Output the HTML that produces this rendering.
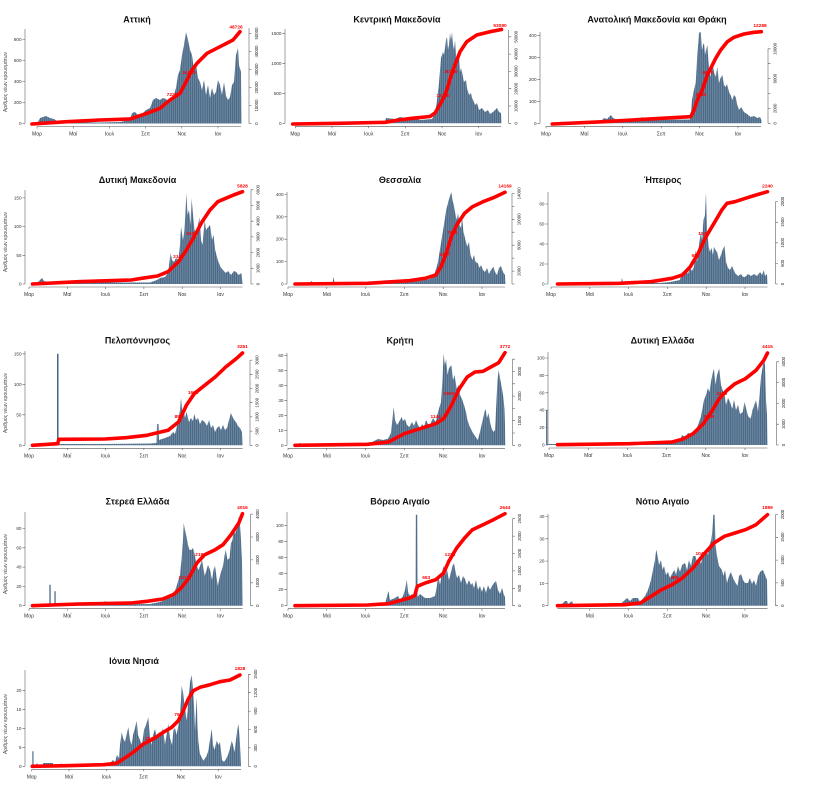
<!DOCTYPE html>
<html><head><meta charset="utf-8"><style>
html,body{margin:0;padding:0;background:#fff;}
svg{display:block;}
text{font-family:"Liberation Sans","DejaVu Sans",sans-serif;}
.t{font-size:9px;font-weight:bold;text-anchor:middle;fill:#111;}
.yl{font-size:4.6px;text-anchor:end;fill:#333;}
.xl{font-size:5px;text-anchor:middle;fill:#333;}
.rl{font-size:4.3px;text-anchor:middle;fill:#333;}
.yt{font-size:5px;text-anchor:middle;fill:#444;}
.rd{font-size:4.8px;font-weight:bold;text-anchor:middle;fill:#ff0000;}
.ax{stroke:#555;stroke-width:.55;fill:none;}
.b{fill:url(#st);stroke:none;}
.r{fill:none;stroke:#ff0000;stroke-width:3.6;stroke-linejoin:round;stroke-linecap:round;}
</style></head><body>
<svg width="816" height="798" viewBox="0 0 816 798" xmlns="http://www.w3.org/2000/svg">
<defs>
<pattern id="st" width="1.9" height="20" patternUnits="userSpaceOnUse">
<rect width="1.9" height="20" fill="#4b6a88"/>
<rect x="1.45" width="0.45" height="20" fill="#8fa3b7"/>
</pattern>
</defs>
<rect width="816" height="798" fill="#fff"/>

<!-- ================= P1 Αττική ================= -->
<text class="t" x="137" y="22.5">Αττική</text>
<text class="yt" transform="translate(7 82) rotate(-90)">Αριθμός νέων κρουσμάτων</text>
<path class="ax" d="M25 29V123.5M22.5 123.5H25M22.5 102.5H25M22.5 81.5H25M22.5 60.5H25M22.5 39.5H25"/>
<text class="yl" x="21.5" y="125">0</text><text class="yl" x="21.5" y="104">200</text><text class="yl" x="21.5" y="83">400</text><text class="yl" x="21.5" y="62">600</text><text class="yl" x="21.5" y="41">800</text>
<path class="ax" d="M249 28V123.5M249 123.5H251.5M249 105.5H251.5M249 87.5H251.5M249 69.5H251.5M249 51.5H251.5M249 33.5H251.5"/>
<text class="rl" transform="translate(258 123.5) rotate(-90)">0</text><text class="rl" transform="translate(258 105.5) rotate(-90)">10000</text><text class="rl" transform="translate(258 87.5) rotate(-90)">20000</text><text class="rl" transform="translate(258 69.5) rotate(-90)">30000</text><text class="rl" transform="translate(258 51.5) rotate(-90)">40000</text><text class="rl" transform="translate(258 33.5) rotate(-90)">50000</text>
<path class="ax" d="M37 126.5H241M37 126.5V128.5M73.2 126.5V128.5M109.4 126.5V128.5M145.6 126.5V128.5M181.8 126.5V128.5M218 126.5V128.5"/>
<text class="xl" x="37" y="135.5">Μαρ</text><text class="xl" x="73.2" y="135.5">Μαϊ</text><text class="xl" x="109.4" y="135.5">Ιουλ</text><text class="xl" x="145.6" y="135.5">Σεπ</text><text class="xl" x="181.8" y="135.5">Νοε</text><text class="xl" x="218" y="135.5">Ιαν</text>
<polygon class="b" points="33,123.5 38,122 40,118 43,117 46,116 50,118 54,119 57,121 60,122 100,122.5 120,122 130,120 132,113 135,112 138,115 142,114 146,110 150,108 153,100 156,98 160,100 163,98 166,99 169,103 172,99 174,95 176,88 178,75 180,70 182,55 184,45 186,32 188,40 190,50 192,55 194,70 196,65 198,78 200,82 202,90 204,80 206,95 208,85 210,98 212,88 214,95 216,92 218,80 220,85 222,95 224,82 226,96 228,100 230,97 232,85 234,82 236,55 238,48 239,65 241,72 241.5,123.5"/>
<polyline class="r" points="32,124 67,121.7 100,120 130,119 147,113.3 160,108.3 170,100 180,93.3 187,80 192,70 197,63.3 207,53.3 220,46.7 233,40 240,31.7"/>
<text class="rd" x="172" y="96">7220</text><text class="rd" x="189" y="74">24425</text><text class="rd" x="236" y="28.5">48726</text>

<!-- ================= P2 Κεντρική Μακεδονία ================= -->
<text class="t" x="397" y="22.5">Κεντρική Μακεδονία</text>
<path class="ax" d="M285 29V123.3M282.5 123.3H285M282.5 93.3H285M282.5 63.3H285M282.5 33.3H285"/>
<text class="yl" x="281.5" y="124.8">0</text><text class="yl" x="281.5" y="94.8">500</text><text class="yl" x="281.5" y="64.8">1000</text><text class="yl" x="281.5" y="34.8">1500</text>
<path class="ax" d="M508.7 30V123.3M508.7 123.3H511.2M508.7 106H511.2M508.7 88.7H511.2M508.7 71.4H511.2M508.7 54.1H511.2M508.7 36.8H511.2"/>
<text class="rl" transform="translate(517.5 123.3) rotate(-90)">0</text><text class="rl" transform="translate(517.5 106) rotate(-90)">10000</text><text class="rl" transform="translate(517.5 88.7) rotate(-90)">20000</text><text class="rl" transform="translate(517.5 71.4) rotate(-90)">30000</text><text class="rl" transform="translate(517.5 54.1) rotate(-90)">40000</text><text class="rl" transform="translate(517.5 36.8) rotate(-90)">50000</text>
<path class="ax" d="M295.3 126.3H501M295.3 126.3V128.3M332 126.3V128.3M368.7 126.3V128.3M405.3 126.3V128.3M442 126.3V128.3M478.7 126.3V128.3"/>
<text class="xl" x="295.3" y="135.3">Μαρ</text><text class="xl" x="332" y="135.3">Μαϊ</text><text class="xl" x="368.7" y="135.3">Ιουλ</text><text class="xl" x="405.3" y="135.3">Σεπ</text><text class="xl" x="442" y="135.3">Νοε</text><text class="xl" x="478.7" y="135.3">Ιαν</text>
<polygon class="b" points="292.7,123.3 300,122.5 385,122.5 386,118 395,119 400,117 405,118 412,117 420,120 432,119 435,113 437,100 439,83 441,58 443,52 444,55 445,48 446,40 447,37 448,50 449,45 450,33 451,40 452,32 453,45 454,50 455,40 456,55 457,62 458,60 459,57 460,72 461,68 462,72 464,82 466,80 467,88 469,95 471,93 472,98 474,102 475,105 477,103 479,110 482,108 485,112 488,110 490,114 493,112 495,110 497,108 499,112 501,113 501.5,123.3"/>
<polyline class="r" points="292.7,124 338.7,123.3 385.3,122.3 398.7,120 412,118.3 430,116.5 435,113 438,108 440.3,104 445,95 448,86 450.3,78 455,65 460,51.7 466.7,41.7 476.7,35 490,31.7 501.5,29.5"/>
<text class="rd" x="443" y="97">12260</text><text class="rd" x="451" y="73">30180</text><text class="rd" x="500" y="27">53080</text>

<!-- ================= P3 ΑΜΘ ================= -->
<text class="t" x="657" y="22.5">Ανατολική Μακεδονία και Θράκη</text>
<path class="ax" d="M540 32V123.3M537.5 123.3H540M537.5 101.3H540M537.5 79.3H540M537.5 57.3H540M537.5 35.3H540"/>
<text class="yl" x="536.5" y="124.8">0</text><text class="yl" x="536.5" y="102.8">100</text><text class="yl" x="536.5" y="80.8">200</text><text class="yl" x="536.5" y="58.8">300</text><text class="yl" x="536.5" y="36.8">400</text>
<path class="ax" d="M768 48.8V123.3M768 123.3H770.5M768 108.4H770.5M768 93.5H770.5M768 78.6H770.5M768 63.7H770.5M768 48.8H770.5"/>
<text class="rl" transform="translate(776.5 123.3) rotate(-90)">0</text><text class="rl" transform="translate(776.5 108.4) rotate(-90)">2000</text><text class="rl" transform="translate(776.5 78.6) rotate(-90)">6000</text><text class="rl" transform="translate(776.5 48.8) rotate(-90)">10000</text>
<path class="ax" d="M546 126.3H761M546 126.3V128.3M584.4 126.3V128.3M622.8 126.3V128.3M661.2 126.3V128.3M699.6 126.3V128.3M738 126.3V128.3"/>
<text class="xl" x="546" y="135.3">Μαρ</text><text class="xl" x="584.4" y="135.3">Μαϊ</text><text class="xl" x="622.8" y="135.3">Ιουλ</text><text class="xl" x="661.2" y="135.3">Σεπ</text><text class="xl" x="699.6" y="135.3">Νοε</text><text class="xl" x="738" y="135.3">Ιαν</text>
<polygon class="b" points="552,123.3 560,122.5 600,122 604,118 607,119 609,117 611,115 613,118 620,121 640,119 642,117 645,120 690,119.5 691,113 692,100 694,90 695.7,83 697,60 699,33 700.7,31.7 702,50 703,45 704,43 705,55 706,50 707.3,45 708,55 709,67 710.7,77 712.3,63 714,72 715.7,77 717.3,67 719,83 720.5,78 722.3,75 724,85 725.7,87 727,84 729,92 731,96 732.3,100 734,95 735.7,97 737,104 739,110 741,107 744,112 747,114 750.7,117 754,116 757.3,118 760,117 761.3,120 761.5,123.3"/>
<polyline class="r" points="552.3,124 604,121.7 644,119.3 690.7,116.7 694,110 697.3,100 702.3,90 707.3,75 710.7,68.3 715.7,58.3 720.7,50 727.3,41.7 734,37.3 744,34 754,32.3 761.3,31.7"/>
<text class="rd" x="701" y="96">3380</text><text class="rd" x="708" y="74">6510</text><text class="rd" x="760" y="27">12288</text>

<!-- ================= P4 Δυτική Μακεδονία ================= -->
<text class="t" x="137.5" y="183">Δυτική Μακεδονία</text>
<text class="yt" transform="translate(7 242) rotate(-90)">Αριθμός νέων κρουσμάτων</text>
<path class="ax" d="M25 190V284M22.5 284H25M22.5 255.3H25M22.5 226.6H25M22.5 197.9H25"/>
<text class="yl" x="21.5" y="285.5">0</text><text class="yl" x="21.5" y="256.8">50</text><text class="yl" x="21.5" y="228.1">100</text><text class="yl" x="21.5" y="199.4">150</text>
<path class="ax" d="M251 189.8V284M251 284H253.5M251 268.3H253.5M251 252.6H253.5M251 236.9H253.5M251 221.2H253.5M251 205.5H253.5M251 189.8H253.5"/>
<text class="rl" transform="translate(259.5 284) rotate(-90)">0</text><text class="rl" transform="translate(259.5 268.3) rotate(-90)">1000</text><text class="rl" transform="translate(259.5 252.6) rotate(-90)">2000</text><text class="rl" transform="translate(259.5 236.9) rotate(-90)">3000</text><text class="rl" transform="translate(259.5 221.2) rotate(-90)">4000</text><text class="rl" transform="translate(259.5 205.5) rotate(-90)">5000</text><text class="rl" transform="translate(259.5 189.8) rotate(-90)">6000</text>
<path class="ax" d="M29 287H242.5M29 287V289M67.3 287V289M105.6 287V289M143.9 287V289M182.2 287V289M220.5 287V289"/>
<text class="xl" x="29" y="296">Μαρ</text><text class="xl" x="67.3" y="296">Μαϊ</text><text class="xl" x="105.6" y="296">Ιουλ</text><text class="xl" x="143.9" y="296">Σεπ</text><text class="xl" x="182.2" y="296">Νοε</text><text class="xl" x="220.5" y="296">Ιαν</text>
<polygon class="b" points="32.5,284 38,282 40,280 42,278 44,281 50,282.5 150,282.5 157,280 160,278 165,277 168,273 170.6,253 172,260 174,262 176,258 178.5,260 180,245 181,227 183,240 184.5,230 186.4,193 187.5,215 189,210 190.5,225 191.6,198 193,215 194.5,230 196.9,237 198,225 199.5,217 201,240 202.5,245 204.7,220 206,230 207.5,228 210,225 212,240 213.5,235 215.2,250 217.8,260 220.5,267 223,270 225.7,273 228,271 231,275 234,271 236.2,272 238.5,275 241.5,273 242.5,284"/>
<polyline class="r" points="32.5,284 78.7,281.7 131.2,280 141.7,278.3 157.5,276 168,271.7 178.5,261.7 186.4,250 194.2,236.7 202.1,221.7 210,210 217.8,201.7 225.7,198.3 233.6,195 242.5,191.7"/>
<text class="rd" x="178.5" y="258">2144</text><text class="rd" x="191.6" y="235">3420</text><text class="rd" x="242.5" y="187.5">5828</text>

<!-- ================= P5 Θεσσαλία ================= -->
<text class="t" x="400" y="183">Θεσσαλία</text>
<path class="ax" d="M287 192V284M284.5 284H287M284.5 261.6H287M284.5 239.2H287M284.5 216.8H287M284.5 194.4H287"/>
<text class="yl" x="283.5" y="285.5">0</text><text class="yl" x="283.5" y="263.1">100</text><text class="yl" x="283.5" y="240.7">200</text><text class="yl" x="283.5" y="218.3">300</text><text class="yl" x="283.5" y="195.9">400</text>
<path class="ax" d="M512 193.4V284M512 284H514.5M512 271.1H514.5M512 258.1H514.5M512 245.2H514.5M512 232.2H514.5M512 219.3H514.5M512 206.4H514.5M512 193.4H514.5"/>
<text class="rl" transform="translate(520.5 271.1) rotate(-90)">2000</text><text class="rl" transform="translate(520.5 245.2) rotate(-90)">6000</text><text class="rl" transform="translate(520.5 219.3) rotate(-90)">10000</text><text class="rl" transform="translate(520.5 193.4) rotate(-90)">14000</text>
<path class="ax" d="M288 287H505M288 287V289M326.8 287V289M365.6 287V289M404.4 287V289M443.2 287V289M482 287V289"/>
<text class="xl" x="288" y="296">Μαρ</text><text class="xl" x="326.8" y="296">Μαϊ</text><text class="xl" x="365.6" y="296">Ιουλ</text><text class="xl" x="404.4" y="296">Σεπ</text><text class="xl" x="443.2" y="296">Νοε</text><text class="xl" x="482" y="296">Ιαν</text>
<polygon class="b" points="295,284 310,283 311.5,280.7 313,283 332.8,282 333.5,276.7 334.5,283 380,283 400,282 420,281 430,279 434,276 435.7,270 438,262 441,243 443.6,227 445,218 446.2,210 447.5,205 448.8,200 450,196 451.4,192.3 452.5,200 454,206 455.5,215 456.7,220 458,213 459.5,225 461,228 462,217 463.5,232 465,238 467.2,246.7 469,242 470.5,255 472.4,260 474,255 475.5,262 477.7,263 479.5,268 481,265 483,270 485,272 487,268 489,274 491,270 493.4,266.7 495,272 497,275 499,268 501,266 503,272 505,275 505.5,284"/>
<polyline class="r" points="295,284 367.5,283.3 409.4,280.7 425.2,278.3 435.7,275 441,266.7 446.2,253.3 451.4,236.7 456.7,225 464.6,213.3 472.4,206.7 483,201.7 493.4,197.7 505,192.3"/>
<text class="rd" x="445" y="256">2897</text><text class="rd" x="452.5" y="234">7650</text><text class="rd" x="505" y="187.5">14169</text>

<!-- ================= P6 Ήπειρος ================= -->
<text class="t" x="662.5" y="183">Ήπειρος</text>
<path class="ax" d="M548 192V284M545.5 284H548M545.5 264H548M545.5 244H548M545.5 224H548M545.5 204H548"/>
<text class="yl" x="544.5" y="285.5">0</text><text class="yl" x="544.5" y="265.5">20</text><text class="yl" x="544.5" y="245.5">40</text><text class="yl" x="544.5" y="225.5">60</text><text class="yl" x="544.5" y="205.5">80</text>
<path class="ax" d="M775.5 201.6V284M775.5 284H778M775.5 263.4H778M775.5 242.8H778M775.5 222.2H778M775.5 201.6H778"/>
<text class="rl" transform="translate(784 284) rotate(-90)">0</text><text class="rl" transform="translate(784 263.4) rotate(-90)">500</text><text class="rl" transform="translate(784 242.8) rotate(-90)">1000</text><text class="rl" transform="translate(784 222.2) rotate(-90)">1500</text><text class="rl" transform="translate(784 201.6) rotate(-90)">2000</text>
<path class="ax" d="M551 287H767.5M551 287V289M589.8 287V289M628.6 287V289M667.4 287V289M706.2 287V289M745 287V289"/>
<text class="xl" x="551" y="296">Μαρ</text><text class="xl" x="589.8" y="296">Μαϊ</text><text class="xl" x="628.6" y="296">Ιουλ</text><text class="xl" x="667.4" y="296">Σεπ</text><text class="xl" x="706.2" y="296">Νοε</text><text class="xl" x="745" y="296">Ιαν</text>
<polygon class="b" points="557.5,284 570,283 621,283 622,278 623,283 660,283 670,282 680,280 682,272 684,275 686,270 688,274 690,268 692,271 694,267 695.5,250 697,262 699,245 700.8,231.7 702,240 703.5,220 705,215 706,192.3 707,230 708.7,247 710,252 711.5,248 713,255 714,246.7 715.5,250 717,252 719,260 721,255 722.5,250 724.4,245.7 726,262 728,268 730,270 732,266 735,273 738,276 741,274 743,277 745.4,276.7 748,274 751,276 754,274 757,276 760,272 762,275 763.8,270 765,276 767,274 767.5,284"/>
<polyline class="r" points="557.5,284 619.4,283.3 651,281.7 672,278.3 682.4,275 690.3,266.7 698.2,253.3 706,236.7 714,223.3 721.8,210 727,203.3 735,201.7 745.4,198.3 756,195 767.5,191.7"/>
<text class="rd" x="695.5" y="257">581</text><text class="rd" x="703.4" y="235">1141</text><text class="rd" x="767.5" y="187.5">2240</text>

<!-- ================= P7 Πελοπόννησος ================= -->
<text class="t" x="137.5" y="343.5">Πελοπόννησος</text>
<text class="yt" transform="translate(7 403) rotate(-90)">Αριθμός νέων κρουσμάτων</text>
<path class="ax" d="M25 351V445.3M22.5 445.3H25M22.5 414.8H25M22.5 384.3H25M22.5 353.8H25"/>
<text class="yl" x="21.5" y="446.8">0</text><text class="yl" x="21.5" y="416.3">50</text><text class="yl" x="21.5" y="385.8">100</text><text class="yl" x="21.5" y="355.3">150</text>
<path class="ax" d="M250 360.1V445.3M250 445.3H252.5M250 431.1H252.5M250 416.9H252.5M250 402.7H252.5M250 388.5H252.5M250 374.3H252.5M250 360.1H252.5"/>
<text class="rl" transform="translate(258.5 445.3) rotate(-90)">0</text><text class="rl" transform="translate(258.5 431.1) rotate(-90)">500</text><text class="rl" transform="translate(258.5 416.9) rotate(-90)">1000</text><text class="rl" transform="translate(258.5 402.7) rotate(-90)">1500</text><text class="rl" transform="translate(258.5 388.5) rotate(-90)">2000</text><text class="rl" transform="translate(258.5 374.3) rotate(-90)">2500</text><text class="rl" transform="translate(258.5 360.1) rotate(-90)">3000</text>
<path class="ax" d="M29 448.3H242.5M29 448.3V450.3M67.3 448.3V450.3M105.6 448.3V450.3M143.9 448.3V450.3M182.2 448.3V450.3M220.5 448.3V450.3"/>
<text class="xl" x="29" y="457.3">Μαρ</text><text class="xl" x="67.3" y="457.3">Μαϊ</text><text class="xl" x="105.6" y="457.3">Ιουλ</text><text class="xl" x="143.9" y="457.3">Σεπ</text><text class="xl" x="182.2" y="457.3">Νοε</text><text class="xl" x="220.5" y="457.3">Ιαν</text>
<polygon class="b" points="32.5,445.3 40,444.5 57,444.5 57,353.7 58.6,353.7 58.6,444 100,444 150,443.5 156.5,443 157,424 158.5,424 159,440 165,438 170,436 173,432 175,434 176.5,428 178.5,418.7 180,410 181,398 182.5,415 183.7,408.7 185,418 186.5,412 189,422 191,418 193,421 194.2,414 196,420 198,418 200,424 202,420 204.7,422 207,426 209,420 211,428 213,425 215,432 217,428 219,426 221,430 223,425 225,430 227,428 229,420 231,413 233,418 235,421 236,422 238,426 240,428 242,432 242.5,445.3"/>
<polyline class="r" points="32.5,445.3 57.7,443.7 58.8,439.3 105,439 126,437.7 147,435.3 168,430.3 178.5,422 186.4,405.3 194.2,393.7 204.7,385.3 215.2,377 225.7,367 236.2,358.7 242.5,353"/>
<text class="rd" x="178.5" y="418">850</text><text class="rd" x="193.2" y="394">1652</text><text class="rd" x="242.5" y="348">3251</text>

<!-- ================= P8 Κρήτη ================= -->
<text class="t" x="400" y="343.5">Κρήτη</text>
<path class="ax" d="M287 353V445.3M284.5 445.3H287M284.5 430.3H287M284.5 415.3H287M284.5 400.3H287M284.5 385.3H287M284.5 370.3H287M284.5 355.3H287"/>
<text class="yl" x="283.5" y="446.8">0</text><text class="yl" x="283.5" y="431.8">10</text><text class="yl" x="283.5" y="416.8">20</text><text class="yl" x="283.5" y="401.8">30</text><text class="yl" x="283.5" y="386.8">40</text><text class="yl" x="283.5" y="371.8">50</text><text class="yl" x="283.5" y="356.8">60</text>
<path class="ax" d="M512.5 359.2V445.3M512.5 445.3H515M512.5 433H515M512.5 420.7H515M512.5 408.4H515M512.5 396.1H515M512.5 383.8H515M512.5 371.5H515M512.5 359.2H515"/>
<text class="rl" transform="translate(521 445.3) rotate(-90)">0</text><text class="rl" transform="translate(521 420.7) rotate(-90)">1000</text><text class="rl" transform="translate(521 396.1) rotate(-90)">2000</text><text class="rl" transform="translate(521 371.5) rotate(-90)">3000</text>
<path class="ax" d="M288 448.3H505M288 448.3V450.3M326.8 448.3V450.3M365.6 448.3V450.3M404.4 448.3V450.3M443.2 448.3V450.3M482 448.3V450.3"/>
<text class="xl" x="288" y="457.3">Μαρ</text><text class="xl" x="326.8" y="457.3">Μαϊ</text><text class="xl" x="365.6" y="457.3">Ιουλ</text><text class="xl" x="404.4" y="457.3">Σεπ</text><text class="xl" x="443.2" y="457.3">Νοε</text><text class="xl" x="482" y="457.3">Ιαν</text>
<polygon class="b" points="295,445.3 300,443 302,444 360,444 365,443 372,442 378,439 383,440 388,438.7 391,433 393.7,407 395,420 397,425 399,422 401.6,417 403,421 405,419 407,425 409.4,427 412,422 414,426 416,420 418,425 420,428.7 422,424 424,427 426,420 428,424 430,425 433,418 435.7,422 438,412 441,402 442.5,380 443.6,354 445,365 446.2,359 447.5,375 449,368 451.4,365.3 453,380 454.5,375 456.7,389 458.5,385 460,395 462,399 464,405 466,412 467.2,419 469,425 470.5,428 472.4,432 475,436 477.7,440 480,432 481.5,425 483,419 484.5,412 485.6,409 487,418 488.5,413 490,422 491.5,428 493.4,432 495,430 496.5,400 497.5,380 498.7,370.3 500,378 501.3,385 502.5,392 503.5,398 504.5,410 505,425 505.3,445.3"/>
<polyline class="r" points="295,445.3 367.5,444.3 388.5,442 404.2,433.7 420,428.7 435.7,423.7 443.6,418.7 451.4,405.3 459.3,388.7 467.2,377 475,372 483,371.3 490.8,367 498.7,362.7 505,352.7"/>
<text class="rd" x="435.7" y="418">1144</text><text class="rd" x="448.8" y="395">1930</text><text class="rd" x="505" y="348">3772</text>

<!-- ================= P9 Δυτική Ελλάδα ================= -->
<text class="t" x="662.5" y="343.5">Δυτική Ελλάδα</text>
<path class="ax" d="M548 352V445M545.5 445H548M545.5 427.6H548M545.5 410.2H548M545.5 392.8H548M545.5 375.4H548M545.5 358H548"/>
<text class="yl" x="544.5" y="446.5">0</text><text class="yl" x="544.5" y="429.1">20</text><text class="yl" x="544.5" y="411.7">40</text><text class="yl" x="544.5" y="394.3">60</text><text class="yl" x="544.5" y="376.9">80</text><text class="yl" x="544.5" y="359.5">100</text>
<path class="ax" d="M776.5 361.8V445M776.5 445H779M776.5 424.2H779M776.5 403.4H779M776.5 382.6H779M776.5 361.8H779"/>
<text class="rl" transform="translate(785 445) rotate(-90)">0</text><text class="rl" transform="translate(785 424.2) rotate(-90)">1000</text><text class="rl" transform="translate(785 403.4) rotate(-90)">2000</text><text class="rl" transform="translate(785 382.6) rotate(-90)">3000</text><text class="rl" transform="translate(785 361.8) rotate(-90)">4000</text>
<path class="ax" d="M549 448H767.5M549 448V450M588.2 448V450M627.4 448V450M666.6 448V450M705.8 448V450M745 448V450"/>
<text class="xl" x="549" y="457">Μαρ</text><text class="xl" x="588.2" y="457">Μαϊ</text><text class="xl" x="627.4" y="457">Ιουλ</text><text class="xl" x="666.6" y="457">Σεπ</text><text class="xl" x="705.8" y="457">Νοε</text><text class="xl" x="745" y="457">Ιαν</text>
<polygon class="b" points="546,445 546,410.3 547.4,410.3 547.4,444 557,444 600,443.5 640,443 670,442 680,440 682,435 685,437 688,433 691,434 693,432 696,430 698,425 700.8,417 702.5,408 704,400 706,395 708,388 709.5,392 711.3,380 713,372 714,368.7 715.5,385 717,375 719.2,368.7 721,385 722.5,390 724.4,393.7 726,405 728,398 730,402 732.3,408.7 734,400 736,410 738,405 740,414 742.8,412 744.5,402 746,408 748,416 750.7,418.7 752.5,410 754,406 756,400 758,412 759.5,395 761.2,375.3 762.5,368 763.8,358.7 765,365 766,400 767,415 767.5,445"/>
<polyline class="r" points="557.5,444.7 630,443.7 672,442 682.4,439.3 693,433.7 703.4,423.7 711.3,412 719.2,398.7 727,390.3 735,383.7 745.4,378.7 756,370.3 763.8,360.3 767.5,353"/>
<text class="rd" x="708.7" y="418">1395</text><text class="rd" x="721.8" y="395">2220</text><text class="rd" x="767.5" y="348">4415</text>

<!-- ================= P10 Στερεά Ελλάδα ================= -->
<text class="t" x="137.5" y="504.5">Στερεά Ελλάδα</text>
<text class="yt" transform="translate(7 564) rotate(-90)">Αριθμός νέων κρουσμάτων</text>
<path class="ax" d="M25 512V605.7M22.5 605.7H25M22.5 586.4H25M22.5 567.1H25M22.5 547.8H25M22.5 528.5H25"/>
<text class="yl" x="21.5" y="607.2">0</text><text class="yl" x="21.5" y="587.9">20</text><text class="yl" x="21.5" y="568.6">40</text><text class="yl" x="21.5" y="549.3">60</text><text class="yl" x="21.5" y="530">80</text>
<path class="ax" d="M250.5 514.1V605.7M250.5 605.7H253M250.5 582.8H253M250.5 559.9H253M250.5 537H253M250.5 514.1H253"/>
<text class="rl" transform="translate(259 605.7) rotate(-90)">0</text><text class="rl" transform="translate(259 582.8) rotate(-90)">1000</text><text class="rl" transform="translate(259 559.9) rotate(-90)">2000</text><text class="rl" transform="translate(259 537) rotate(-90)">3000</text><text class="rl" transform="translate(259 514.1) rotate(-90)">4000</text>
<path class="ax" d="M29 608.7H242.5M29 608.7V610.7M67.3 608.7V610.7M105.6 608.7V610.7M143.9 608.7V610.7M182.2 608.7V610.7M220.5 608.7V610.7"/>
<text class="xl" x="29" y="617.7">Μαρ</text><text class="xl" x="67.3" y="617.7">Μαϊ</text><text class="xl" x="105.6" y="617.7">Ιουλ</text><text class="xl" x="143.9" y="617.7">Σεπ</text><text class="xl" x="182.2" y="617.7">Νοε</text><text class="xl" x="220.5" y="617.7">Ιαν</text>
<polygon class="b" points="32.5,605.7 45,604.5 49.3,604.5 49.3,584.7 50.7,584.7 50.7,604 54.3,604 54.3,591.3 55.7,591.3 55.7,604.5 104.4,604.5 104.4,601.3 105.6,601.3 105.6,604.5 150,604 160,602 165,600 168,596 171,598 174,594 176,588 178.5,580 180,575 181.5,560 183,540 183.7,523 185,530 186.4,536.3 188,545 189.5,550 191.6,549.7 193,548 195,556 196.9,566 198.5,570 200,566 202,560 204.7,576 206.5,570 208,565 210,569.7 212,580 213.5,570 215,566 217.8,586 219.5,578 221,572 223,566 224.5,556 225.7,549.7 227.5,560 229.5,558 231,543 232.5,540 233.6,529.7 235,534 236.5,530 238,522 238.8,516.3 240,525 241,540 242,560 242.5,605.7"/>
<polyline class="r" points="32.5,605.7 78.7,604 131.2,603 147,601.3 162.7,599 173.2,594.7 181,588 189,578 196.9,563 204.7,554.7 215.2,549.7 223,544.7 231,534.7 238.8,523 242.5,513.7"/>
<text class="rd" x="183.7" y="579">1411</text><text class="rd" x="200.5" y="556">2181</text><text class="rd" x="242.5" y="509">4016</text>

<!-- ================= P11 Βόρειο Αιγαίο ================= -->
<text class="t" x="400" y="504.5">Βόρειο Αιγαίο</text>
<path class="ax" d="M287 512V605.7M284.5 605.7H287M284.5 589.7H287M284.5 573.7H287M284.5 557.7H287M284.5 541.7H287M284.5 525.7H287"/>
<text class="yl" x="283.5" y="607.2">0</text><text class="yl" x="283.5" y="591.2">20</text><text class="yl" x="283.5" y="575.2">40</text><text class="yl" x="283.5" y="559.2">60</text><text class="yl" x="283.5" y="543.2">80</text><text class="yl" x="283.5" y="527.2">100</text>
<path class="ax" d="M512.5 518.7V605.7M512.5 605.7H515M512.5 588.3H515M512.5 570.9H515M512.5 553.5H515M512.5 536.1H515M512.5 518.7H515"/>
<text class="rl" transform="translate(521 605.7) rotate(-90)">0</text><text class="rl" transform="translate(521 588.3) rotate(-90)">500</text><text class="rl" transform="translate(521 570.9) rotate(-90)">1000</text><text class="rl" transform="translate(521 553.5) rotate(-90)">1500</text><text class="rl" transform="translate(521 536.1) rotate(-90)">2000</text><text class="rl" transform="translate(521 518.7) rotate(-90)">2500</text>
<path class="ax" d="M288 608.7H505M288 608.7V610.7M326.8 608.7V610.7M365.6 608.7V610.7M404.4 608.7V610.7M443.2 608.7V610.7M482 608.7V610.7"/>
<text class="xl" x="288" y="617.7">Μαρ</text><text class="xl" x="326.8" y="617.7">Μαϊ</text><text class="xl" x="365.6" y="617.7">Ιουλ</text><text class="xl" x="404.4" y="617.7">Σεπ</text><text class="xl" x="443.2" y="617.7">Νοε</text><text class="xl" x="482" y="617.7">Ιαν</text>
<polygon class="b" points="295,605.7 380,605 385,604 388.5,591 390,600 395,598 398,596 400,600 403,596 405,590 406.8,579.7 408,592 410,596 412,594 414,596 415.5,596 415.8,514.7 417.2,514.7 417.5,597 420,594 425,598 430,598 435,596 437,585 438.3,576 440,585 442,572 443.6,566 445,575 447,570 449,580 451,572 452.5,566 454,563 455.5,572 457,578 459,575 461,583 463,576 465,579 467,585 469,580 471,585 472.4,583 474,588 476,580 478,590 480,586 482,592 484,586 486,593 488,585 490,590 492,586 494,583 496,581 498,590 500,594 502,588 504,595 505,597 505.3,605.7"/>
<polyline class="r" points="295,605.7 367.5,605 388.5,603.7 409.4,598 414.7,595.7 417.3,586.3 425.2,583 435.7,579.7 443.6,573 448.8,561.3 456.7,548 464.6,538 472.4,529.7 483,524.7 493.4,519.7 505,513.7"/>
<text class="rd" x="426.2" y="579">653</text><text class="rd" x="450" y="556">1226</text><text class="rd" x="505" y="509">2644</text>

<!-- ================= P12 Νότιο Αιγαίο ================= -->
<text class="t" x="662.5" y="504.5">Νότιο Αιγαίο</text>
<path class="ax" d="M548 514V605.7M545.5 605.7H548M545.5 583.4H548M545.5 561.1H548M545.5 538.8H548M545.5 516.5H548"/>
<text class="yl" x="544.5" y="607.2">0</text><text class="yl" x="544.5" y="584.9">10</text><text class="yl" x="544.5" y="562.6">20</text><text class="yl" x="544.5" y="540.3">30</text><text class="yl" x="544.5" y="518">40</text>
<path class="ax" d="M775.5 514.5V605.7M775.5 605.7H778M775.5 582.9H778M775.5 560.1H778M775.5 537.3H778M775.5 514.5H778"/>
<text class="rl" transform="translate(784 605.7) rotate(-90)">0</text><text class="rl" transform="translate(784 582.9) rotate(-90)">500</text><text class="rl" transform="translate(784 560.1) rotate(-90)">1000</text><text class="rl" transform="translate(784 537.3) rotate(-90)">1500</text><text class="rl" transform="translate(784 514.5) rotate(-90)">2000</text>
<path class="ax" d="M557.5 608.7H767.5M589.8 608.7V610.7M628.6 608.7V610.7M667.4 608.7V610.7M706.2 608.7V610.7M745 608.7V610.7"/>
<text class="xl" x="589.8" y="617.7">Μαϊ</text><text class="xl" x="628.6" y="617.7">Ιουλ</text><text class="xl" x="667.4" y="617.7">Σεπ</text><text class="xl" x="706.2" y="617.7">Νοε</text><text class="xl" x="745" y="617.7">Ιαν</text>
<polygon class="b" points="557.5,605.7 562,604 565,601 567,601 568,604 572,601 573,604 620,604.5 627,598 630,601 633,598 638,598 640,602 645,596 648,590 651,580 653,570 655,560 656.2,549.7 657.5,555 659,565 661,560 662.5,570 664,566 666,575 668,572 670,578 672,574 674.5,569.7 676,575 678,566 680,572 682,565 685,563 687,570 689,560 691,566 693,556 695.5,556 697,562 699,558 701,564 703,554 706,549.7 708,555 709.5,545 711.3,539.7 712.5,530 713.3,514.7 714.7,514.7 715.5,545 717,556 719,566 721.8,569.7 723.5,576 725,570 727,583 729,576 731,572 733,578 735,582 737.5,586 739,576 741,574 743,580 745,583 748,583 750,578 752,584 754,580 756,586 758,576 760,572 761.2,571 763,570 765,575 767,580 767.5,605.7"/>
<polyline class="r" points="557.5,605.7 624.7,604.7 640.4,603 651,596.3 661.4,589.7 672,584.7 682.4,578 693,568 703.4,554.7 714,543 724.4,536.3 735,533 745.4,529.7 756,524.7 767.5,514.7"/>
<text class="rd" x="674.5" y="579">495</text><text class="rd" x="700.8" y="555">1046</text><text class="rd" x="767.5" y="509">1899</text>

<!-- ================= P13 Ιόνια Νησιά ================= -->
<text class="t" x="134" y="664">Ιόνια Νησιά</text>
<text class="yt" transform="translate(7 724) rotate(-90)">Αριθμός νέων κρουσμάτων</text>
<path class="ax" d="M25 670V766.3M22.5 766.3H25M22.5 747.3H25M22.5 728.3H25M22.5 709.3H25M22.5 690.3H25"/>
<text class="yl" x="21.5" y="767.8">0</text><text class="yl" x="21.5" y="748.8">5</text><text class="yl" x="21.5" y="729.8">10</text><text class="yl" x="21.5" y="710.8">15</text><text class="yl" x="21.5" y="691.8">20</text>
<path class="ax" d="M248.3 674.3V766.3M248.3 766.3H250.8M248.3 747.9H250.8M248.3 729.5H250.8M248.3 711.1H250.8M248.3 692.7H250.8M248.3 674.3H250.8"/>
<text class="rl" transform="translate(256.8 766.3) rotate(-90)">0</text><text class="rl" transform="translate(256.8 747.9) rotate(-90)">300</text><text class="rl" transform="translate(256.8 729.5) rotate(-90)">600</text><text class="rl" transform="translate(256.8 711.1) rotate(-90)">900</text><text class="rl" transform="translate(256.8 692.7) rotate(-90)">1200</text><text class="rl" transform="translate(256.8 674.3) rotate(-90)">1500</text>
<path class="ax" d="M31.7 769.3H241M31.7 769.3V771.3M69 769.3V771.3M106.3 769.3V771.3M143.6 769.3V771.3M180.9 769.3V771.3M218.2 769.3V771.3"/>
<text class="xl" x="31.7" y="778.3">Μαρ</text><text class="xl" x="69" y="778.3">Μαϊ</text><text class="xl" x="106.3" y="778.3">Ιουλ</text><text class="xl" x="143.6" y="778.3">Σεπ</text><text class="xl" x="180.9" y="778.3">Νοε</text><text class="xl" x="218.2" y="778.3">Ιαν</text>
<polygon class="b" points="32.3,766.3 32.3,751.3 33.5,751.3 33.5,765 36,765 37,763 38,765 43,765 43,763 53,763 53,765 60,765 61,763 62,765 100,765 103,763 110,763 113,760 115,762 117,755 119,758 120,745 121.7,732.3 123,738 125,742 126.5,735 128.3,727.3 130,740 131.5,745 133,735 135,728 136.7,720.7 138,735 140,740 142,745 144,730 146,725 148.3,717.3 150,738 151.5,745 153,735 155,729 157,738 159,732 161,735 163,728 165,745 166.5,735 168.3,724 170,738 172,745 173.5,730 175,728 176.5,735 178.3,726 180,715 181,700 181.7,685.7 183,692 184.5,705 186.7,720.7 188,705 189,692 190,682.3 191.7,674.7 193,690 194,705 195,730.7 196.7,697.3 197.5,725 198.3,740.7 200,754 202,758 203.3,760.7 206,757 208,752 210,740 211.7,729 213,745 214.5,750 216.7,740.7 218.5,745 220,742 222,760 224,762 226,759 228,755 230,748 231.7,740.7 233,745 234.5,752 236,740 237.3,730 238.3,724 239.5,735 240.5,755 241,766.3"/>
<polyline class="r" points="32.3,766.3 66.7,765.7 103.3,764.7 116.7,763.3 123.3,759 133.3,752.3 143.3,744 153.3,739 163.3,732.3 171.7,727.3 178.3,720.7 183.3,710.7 188.3,699 193.3,690.7 200,687.3 210,684.7 220,681.7 230,680 240,675"/>
<text class="rd" x="149.3" y="740">357</text><text class="rd" x="178.3" y="716">761</text><text class="rd" x="240" y="670">1828</text>

</svg>
</body></html>
